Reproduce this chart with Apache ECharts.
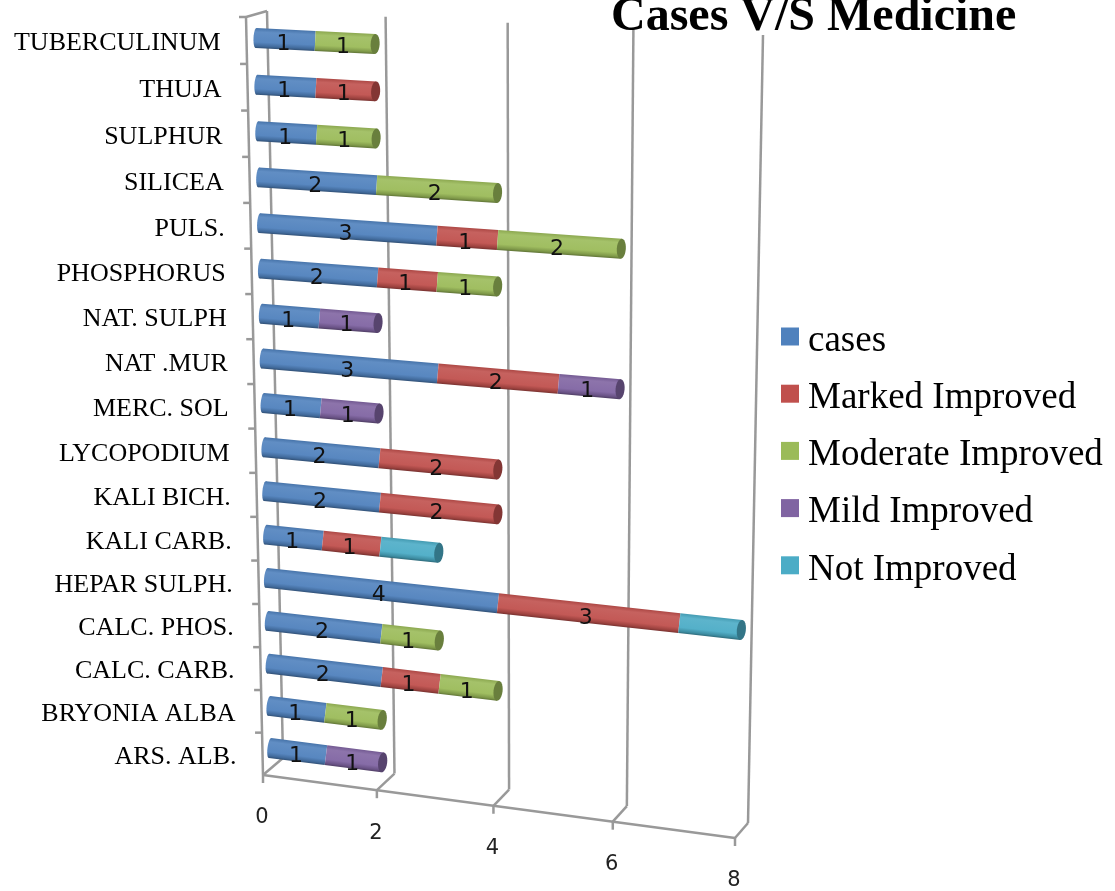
<!DOCTYPE html>
<html><head><meta charset="utf-8">
<style>html,body{margin:0;padding:0;background:#fff}#c{width:1115px;height:891px}</style>
<script src="https://cdn.jsdelivr.net/npm/echarts@6/dist/echarts.min.js"></script>
</head><body><div id="c"></div>
<script>
const categories = ["ARS. ALB.","BRYONIA ALBA","CALC. CARB.","CALC. PHOS.","HEPAR SULPH.","KALI CARB.","KALI BICH.","LYCOPODIUM","MERC. SOL","NAT .MUR","NAT. SULPH","PHOSPHORUS","PULS.","SILICEA","SULPHUR","THUJA","TUBERCULINUM"];
const cases    = [1,1,2,2,4,1,2,2,1,3,1,2,3,2,1,1,1];
const marked   = [0,0,1,0,3,1,2,2,0,2,0,1,1,0,0,1,0];
const moderate = [0,1,1,1,0,0,0,0,0,0,0,1,2,2,1,0,1];
const mild     = [1,0,0,0,0,0,0,0,1,1,1,0,0,0,0,0,0];
const notImp   = [0,0,0,0,1,1,0,0,0,0,0,0,0,0,0,0,0];
const seriesNames = ["cases","Marked Improved","Moderate Improved","Mild Improved","Not Improved"];
const seriesValues = [cases, marked, moderate, mild, notImp];
const seriesColors = ["#4f81bd","#c0504d","#9bbb59","#8064a2","#4bacc6"];
const showLabels = [true,true,true,true,false];
const xTicks = [0,2,4,6,8];

const GRID = {left:263, top:40, width:472, height:735};
const XMAX = 8, RMAX = categories.length;

function homography(bl,br,tr,tl){
  const [x0,y0]=bl,[x1,y1]=br,[x2,y2]=tr,[x3,y3]=tl;
  const dx1=x1-x2,dx2=x3-x2,dx3=x0-x1+x2-x3,dy1=y1-y2,dy2=y3-y2,dy3=y0-y1+y2-y3;
  const den=dx1*dy2-dx2*dy1;
  const g=(dx3*dy2-dx2*dy3)/den,h=(dx1*dy3-dx3*dy1)/den;
  const a=x1-x0+g*x1,b=x3-x0+h*x3,d=y1-y0+g*y1,e=y3-y0+h*y3;
  return (u,v)=>{const w=g*u+h*v+1;return [(a*u+b*v+x0)/w,(d*u+e*v+y0)/w];};
}
// perspective planes of the 3-D box
const backWall  = homography([283,758],[748,823],[763,35],[267,11]);
const frontWall = homography([263,775],[735,838],[745,45],[246,17]);
const barPlane  = homography([270,748],[738,808],[752,63],[256,38]);

// library scale -> unit square
function norm(p){return [(p[0]-GRID.left)/GRID.width,(GRID.top+GRID.height-p[1])/GRID.height];}
function barPt(api,v,y){const n=norm(api.coord([v,y]));return barPlane(n[0],(n[1]*RMAX-0.5)/(RMAX-1));}
function backPt(api,v,y){const n=norm(api.coord([v,y]));return backWall(n[0],n[1]);}
function frontPt(api,v,y){const n=norm(api.coord([v,y]));return frontWall(n[0],n[1]);}

function shade(hex,f){
  const n=parseInt(hex.slice(1),16);let c=[n>>16,(n>>8)&255,n&255];
  c=c.map(x=>Math.round(f>=1?x+(255-x)*(f-1):x*f));
  return `rgb(${c[0]},${c[1]},${c[2]})`;
}
const HALF=10, CAPRX=4.5, STARTRX=2.5;
function ellipsePts(c,ux,uy,rx,ry){
  const pts=[];for(let k=0;k<24;k++){const t=k/24*2*Math.PI,a=Math.cos(t)*rx,b=Math.sin(t)*ry;
    pts.push([c[0]+a*ux-b*uy,c[1]+a*uy+b*ux]);}
  return pts;
}
function makeBarRender(si){
  const col=seriesColors[si];
  return function(params,api){
    const s=api.value(0),e=api.value(1),y=api.value(2),val=api.value(3),last=api.value(4);
    const a=barPt(api,s,y),b=barPt(api,e,y);
    const dx=b[0]-a[0],dy=b[1]-a[1],L=Math.hypot(dx,dy),ux=dx/L,uy=dy/L,nx=-uy,ny=ux;
    const grad=new echarts.graphic.LinearGradient(a[0]-nx*HALF,a[1]-ny*HALF,a[0]+nx*HALF,a[1]+ny*HALF,[
      {offset:0,color:shade(col,0.9)},{offset:0.2,color:shade(col,1.1)},
      {offset:0.7,color:shade(col,1.05)},{offset:0.9,color:shade(col,0.82)},{offset:1,color:shade(col,0.62)}],true);
    const kids=[];
    if(s===0) kids.push({type:'polygon',shape:{points:ellipsePts(a,ux,uy,STARTRX,HALF)},style:{fill:grad}});
    kids.push({type:'polygon',shape:{points:[
      [a[0]+nx*HALF,a[1]+ny*HALF],[b[0]+nx*HALF,b[1]+ny*HALF],
      [b[0]-nx*HALF,b[1]-ny*HALF],[a[0]-nx*HALF,a[1]-ny*HALF]]},style:{fill:grad}});
    if(last) kids.push({type:'polygon',shape:{points:ellipsePts(b,ux,uy,CAPRX,HALF)},style:{fill:shade(col,0.68)}});
    if(showLabels[si]){
      const m=barPt(api,(s+e)/2,y);
      kids.push({type:'text',style:{x:m[0]-2,y:m[1]+5,text:String(val),align:'center',verticalAlign:'middle',
        font:'22px "DejaVu Sans"',fill:'#111'}});
    }
    return {type:'group',children:kids};
  };
}
const LINE={stroke:'#999999',lineWidth:2.5};
function ln(p,q){return {type:'line',shape:{x1:p[0],y1:p[1],x2:q[0],y2:q[1]},style:LINE};}
function renderX(params,api){
  const v=api.value(0);
  const bTop=backPt(api,v,RMAX),bBot=backPt(api,v,0),f=frontPt(api,v,0);
  const kids=[ln(bTop,bBot),ln(bBot,f),ln(f,[f[0],f[1]+8])];
  if(v===0){
    const fr=frontPt(api,XMAX,0);
    kids.push(ln(f,fr),ln(frontPt(api,0,RMAX),bTop),ln(frontPt(api,0,RMAX),f));
  }
  kids.push({type:'text',style:{x:f[0]-1,y:f[1]+43,text:String(v),align:'center',verticalAlign:'middle',
    font:'21px "DejaVu Sans"',fill:'#222'}});
  return {type:'group',children:kids};
}
function renderCat(params,api){
  const i=api.value(0);
  const t=frontPt(api,0,i+1),m=frontPt(api,0,i+0.5);
  return {type:'group',children:[
    ln(t,[t[0]-7,t[1]]),
    {type:'text',style:{x:m[0]-26,y:m[1]+3,text:categories[i],align:'right',verticalAlign:'middle',
      font:'26px "Liberation Serif"',fill:'#000'}}
  ]};
}
const barSeries=seriesNames.map((name,si)=>{
  const data=[];
  categories.forEach((c,i)=>{
    const val=seriesValues[si][i];
    if(!val) return;
    let start=0;for(let k=0;k<si;k++) start+=seriesValues[k][i];
    let later=0;for(let k=si+1;k<seriesValues.length;k++) later+=seriesValues[k][i];
    data.push([start,start+val,i+0.5,val,later===0?1:0]);
  });
  return {name,type:'custom',renderItem:makeBarRender(si),data,itemStyle:{color:seriesColors[si]},
    encode:{x:[0,1],y:2},clip:false,z:5,silent:true};
});
const chart=echarts.init(document.getElementById('c'),null,{renderer:'canvas'});
chart.setOption({
  animation:false,backgroundColor:'#fff',
  title:{text:'Cases V/S Medicine',left:611,top:-6,padding:0,z:10,
    textStyle:{fontFamily:'Liberation Serif',fontWeight:'bold',fontSize:48,color:'#000'}},
  legend:{orient:'vertical',left:781,top:318,padding:0,icon:'rect',itemWidth:18,itemHeight:18,itemGap:15.7,
    data:seriesNames,selectedMode:false,
    formatter:n=>`{s| }{t|${n}}`,
    textStyle:{fontFamily:'Liberation Serif',fontSize:37,color:'#000',
      rich:{s:{lineHeight:46,width:4,fontSize:37,fontFamily:'Liberation Serif'},
            t:{lineHeight:36,verticalAlign:'bottom',fontSize:37,fontFamily:'Liberation Serif',color:'#000'}}}},
  grid:Object.assign({containLabel:false},GRID),
  xAxis:{type:'value',min:0,max:XMAX,interval:2,show:false},
  yAxis:{type:'value',min:0,max:RMAX,interval:1,show:false},
  series:[
    {type:'custom',renderItem:renderX,data:xTicks.map(v=>[v,0]),encode:{x:0,y:1},clip:false,z:1,silent:true},
    {type:'custom',renderItem:renderCat,data:categories.map((c,i)=>[i,i]),encode:{x:0,y:1},clip:false,z:1,silent:true}
  ].concat(barSeries)
});
</script></body></html>
